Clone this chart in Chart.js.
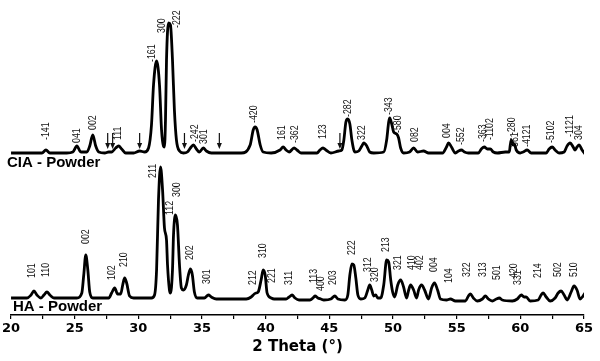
<!DOCTYPE html>
<html>
<head>
<meta charset="utf-8">
<script src="https://cdn.jsdelivr.net/npm/chart.js@4"></script>
<style>
  html, body { margin: 0; padding: 0; background: #fff; }
  #wrap { width: 600px; height: 361px; position: relative; }
</style>
</head>
<body>
<div id="wrap"><canvas id="xrdChart"></canvas></div>
<script>
// Difratograma CIA - Powder (curva de cima, deslocada)
const ciaTheta = [20.00,21.64,22.43,22.74,23.05,24.38,24.85,25.17,25.48,25.95,
  26.18,26.42,26.65,26.89,27.36,27.67,27.90,28.22,28.45,28.69,
  29.00,29.63,30.10,30.49,30.80,31.03,31.19,31.43,31.66,31.82,
  31.97,32.05,32.13,32.21,32.37,32.52,32.68,32.83,32.99,33.23,
  33.54,33.85,34.09,34.32,34.56,34.79,35.10,35.34,35.73,38.08,
  38.78,39.02,39.17,39.33,39.57,39.80,40.43,41.13,41.37,41.60,
  41.84,42.23,42.46,42.77,44.03,44.26,44.50,44.73,45.12,45.75,
  45.98,46.14,46.30,46.45,46.61,46.77,47.00,47.31,47.55,47.70,
  47.94,48.17,48.49,49.27,49.50,49.66,49.74,49.90,50.05,50.29,
  50.44,50.60,50.83,51.30,51.62,51.93,52.40,52.79,53.89,54.20,
  54.36,54.59,54.90,55.14,55.37,55.61,55.92,56.70,56.94,57.17,
  57.41,57.64,57.88,58.19,58.82,59.13,59.21,59.29,59.37,59.44,
  59.52,59.68,59.99,60.22,60.54,60.85,62.03,62.26,62.50,62.73,
  63.04,63.44,63.67,63.91,64.15,64.30,64.45,64.62,64.85,65.08];
const ciaInt = [162,162,162,165,162,162,163,169,163,163,
  169,180,169,163,162,163,163,167,169,166,
  162,162,164,163,167,190,230,254,230,185,
  169,168,195,255,292,290,255,205,175,164,
  162,163,167,170,166,163,167,164,162,162,
  170,185,188,185,170,163,162,165,168,165,
  163,167,165,162,162,165,167,165,162,164,
  165,175,193,196,191,175,163,164,169,172,
  169,163,162,163,175,193,197,191,183,181,
  177,167,162,163,167,163,164,162,162,168,
  172,168,162,164,165,163,162,162,166,168,
  166,166,163,162,163,163,170,175,173,170,
  171,165,162,163,165,162,162,166,168,165,
  162,163,169,172,168,165,168,170,165,161];

// Difratograma HA - Powder (curva de baixo)
const haTheta = [20.00,21.25,21.57,21.80,22.03,22.35,22.58,22.82,23.05,23.37,
  25.17,25.56,25.71,25.87,26.03,26.18,26.42,27.67,27.90,28.14,
  28.37,28.61,28.77,28.92,29.08,29.31,29.63,31.03,31.27,31.43,
  31.58,31.74,31.90,32.05,32.21,32.29,32.44,32.52,32.68,32.76,
  32.91,33.07,33.23,33.38,33.54,33.77,33.93,34.09,34.24,34.40,
  34.63,35.18,35.50,35.73,36.12,38.47,38.86,39.10,39.25,39.41,
  39.64,39.80,39.96,40.11,40.43,40.66,41.60,41.84,42.07,42.30,
  42.62,43.48,43.71,43.87,44.10,44.34,44.57,45.12,45.43,45.67,
  46.22,46.45,46.61,46.77,46.92,47.08,47.24,47.47,47.78,48.02,
  48.17,48.33,48.49,48.64,48.80,49.03,49.27,49.50,49.66,49.82,
  49.97,50.13,50.37,50.60,50.83,51.07,51.23,51.38,51.62,51.85,
  52.01,52.24,52.48,52.79,53.03,53.26,53.50,53.73,54.20,54.51,
  54.90,55.69,55.92,56.08,56.31,56.63,57.02,57.25,57.49,57.80,
  58.11,58.35,58.58,59.37,59.76,60.07,60.30,60.46,60.77,61.40,
  61.63,61.79,62.03,62.34,62.73,62.97,63.20,63.44,63.67,63.99,
  64.22,64.45,64.69,64.93,65.08];
const haInt = [17,17,20,24,20,17,20,23,20,17,
  17,22,40,60,45,23,17,17,22,27,
  21,21,30,37,32,19,17,17,20,45,
  115,148,125,87,75,50,25,22,45,80,
  100,90,50,27,25,30,40,46,40,23,
  17,17,20,18,16,16,18,21,22,23,
  35,45,40,22,17,16,16,18,20,17,
  15,15,17,19,17,16,15,16,19,16,
  15,20,40,51,50,37,20,16,17,25,
  30,25,19,20,17,17,30,55,53,35,
  23,18,30,35,28,17,25,30,25,17,
  25,30,25,16,27,32,25,16,15,16,
  14,14,19,21,17,14,16,19,16,14,
  16,17,15,14,16,20,18,18,14,15,
  20,22,18,14,17,22,24,20,15,23,
  29,25,16,19,22];

// Índices (hkl) dos picos: texto, posição 2θ e altura da base do rótulo
const ciaRotulos = ['-141','041','002','111','-161','300','-222','-242','301','-420',
  '161','-362','123','-282','322','-343','-580','082','004','-552',
  '-363','-1102','-280','361','-4121','-5102','-1121','304'];
const ciaRotTheta = [22.74,25.17,26.42,28.45,31.11,31.90,33.07,34.48,35.18,39.10,
  41.29,42.30,44.50,46.45,47.55,49.74,50.44,51.77,54.28,55.37,
  57.09,57.64,59.37,59.60,60.54,62.42,63.91,64.62];
const ciaRotY = [175,172,185,175,253,282,287,173,171,192,
  175,172,176,198,175,200,182,173,177,170,
  173,175,180,168,168,172,178,175];

const haRotulos = ['101','110','002','102','210','211','112','300','202','301',
  '212','310','221','311','113','400','203','222','312','320',
  '213','321','410','402','004','104','322','313','501','420',
  '331','214','502','510'];
const haRotTheta = [21.64,22.74,25.87,27.98,28.92,31.19,32.52,33.07,34.09,35.42,
  39.02,39.80,40.50,41.84,43.79,44.34,45.28,46.77,48.02,48.64,
  49.50,50.44,51.54,52.16,53.26,54.43,55.84,57.09,58.19,59.52,
  59.83,61.40,62.97,64.22];
const haRotY = [37,38,71,35,48,137,100,118,55,31,
  30,57,32,30,32,24,30,60,43,33,
  63,45,45,45,43,32,38,38,35,37,
  30,37,38,38];

// Setas na curva CIA (posições 2θ)
const ciaSetas = [27.59,27.98,30.10,33.62,36.36,45.83];

// Rótulos do eixo x
const xTicks = [20,25,30,35,40,45,50,55,60,65];

document.addEventListener('DOMContentLoaded', () => {
    const toXY = (xs, ys) => xs.map((v, i) => ({ x: v, y: ys[i] }));

    // Desenha índices, setas e nomes das amostras
    const anotacoes = {
        id: 'anotacoes',
        afterDatasetsDraw(chart) {
            const { ctx, scales: { x, y } } = chart;
            ctx.save();
            ctx.fillStyle = '#111';
            ctx.strokeStyle = '#111';

            const desenhaRotulos = (textos, thetas, alturas) => {
                ctx.font = '10px "Liberation Sans", Arial, sans-serif';
                ctx.textAlign = 'left';
                ctx.textBaseline = 'middle';
                textos.forEach((t, i) => {
                    ctx.save();
                    ctx.translate(x.getPixelForValue(thetas[i]), y.getPixelForValue(alturas[i]));
                    ctx.rotate(-Math.PI / 2);
                    ctx.scale(0.88, 1);
                    ctx.fillText(t, 0, 0);
                    ctx.restore();
                });
            };
            desenhaRotulos(ciaRotulos, ciaRotTheta, ciaRotY);
            desenhaRotulos(haRotulos, haRotTheta, haRotY);

            // setas
            ctx.lineWidth = 1.2;
            ciaSetas.forEach(t => {
                const px = x.getPixelForValue(t);
                const topo = y.getPixelForValue(182);
                const ponta = y.getPixelForValue(166);
                ctx.beginPath();
                ctx.moveTo(px, topo);
                ctx.lineTo(px, ponta - 3);
                ctx.stroke();
                ctx.beginPath();
                ctx.moveTo(px, ponta);
                ctx.lineTo(px - 2.5, ponta - 6);
                ctx.lineTo(px + 2.5, ponta - 6);
                ctx.closePath();
                ctx.fill();
            });

            // nomes das amostras
            ctx.fillStyle = '#000';
            ctx.font = 'bold 15px "Liberation Sans", Arial, sans-serif';
            ctx.textAlign = 'left';
            ctx.textBaseline = 'middle';
            ctx.fillText('CIA - Powder', 7, 163);
            ctx.fillText('HA - Powder', 13, 307);
            ctx.restore();
        }
    };

    const ctx = document.getElementById('xrdChart').getContext('2d');
    new Chart(ctx, {
        type: 'line',
        data: {
            datasets: [
                {
                    label: 'CIA - Powder',
                    data: toXY(ciaTheta, ciaInt),
                    borderColor: '#000',
                    borderWidth: 2.8,
                    pointRadius: 0,
                    cubicInterpolationMode: 'monotone',
                    fill: false
                },
                {
                    label: 'HA - Powder',
                    data: toXY(haTheta, haInt),
                    borderColor: '#000',
                    borderWidth: 2.8,
                    pointRadius: 0,
                    cubicInterpolationMode: 'monotone',
                    fill: false
                }
            ]
        },
        options: {
            responsive: true,
            maintainAspectRatio: false,
            animation: false,
            layout: {
                autoPadding: false,
                padding: { left: 9, right: 16, top: 5, bottom: 0 }
            },
            plugins: {
                legend: { display: false },
                tooltip: { enabled: false }
            },
            scales: {
                x: {
                    type: 'linear',
                    min: 20,
                    max: 65,
                    afterFit: (scale) => { scale.height = 46; },
                    grid: {
                        drawOnChartArea: false,
                        drawTicks: true,
                        tickLength: 4,
                        color: '#000',
                        lineWidth: 1.2
                    },
                    border: { color: '#000', width: 1.5 },
                    ticks: {
                        stepSize: 2.5,
                        autoSkip: false,
                        maxRotation: 0,
                        padding: 2,
                        color: '#000',
                        font: { family: 'DejaVu Sans', weight: 'bold', size: 13 },
                        callback: (v) => xTicks.includes(v) ? v : ''
                    },
                    title: {
                        display: true,
                        text: '2 Theta (°)',
                        color: '#000',
                        font: { family: 'DejaVu Sans', weight: 'bold', size: 15 },
                        padding: { top: 0, bottom: 5 }
                    }
                },
                y: {
                    display: false,
                    min: 0,
                    max: 310
                }
            }
        },
        plugins: [anotacoes]
    });
});
</script>
</body>
</html>
